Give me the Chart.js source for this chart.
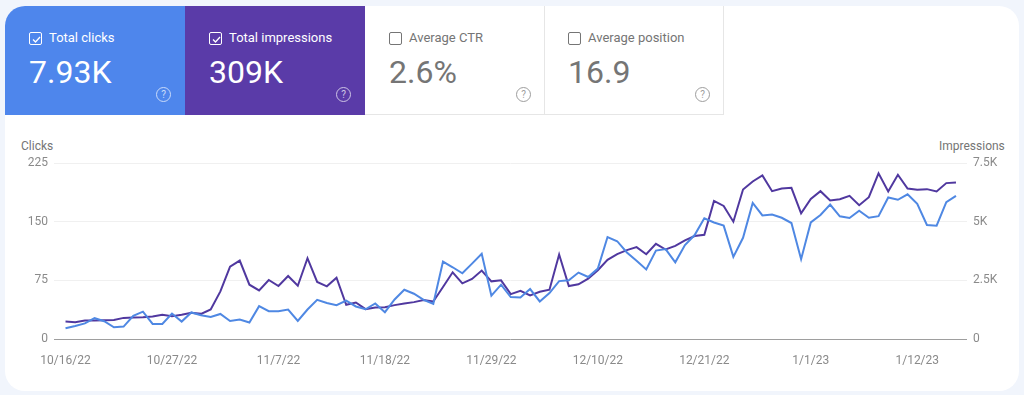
<!DOCTYPE html>
<html>
<head>
<meta charset="utf-8">
<script src="https://cdn.jsdelivr.net/npm/chart.js@4/dist/chart.umd.min.js"></script>
<style>
  html, body { margin: 0; padding: 0; }
  body { width: 1024px; height: 395px; background: #f1f5fc; overflow: hidden; position: relative; font-family: Roboto, sans-serif; }
  #panel { position: absolute; left: 5px; top: 6px; width: 1014px; height: 385px; background: #fff; border-radius: 20px; overflow: hidden; }
  .card { position: absolute; top: 0; width: 180px; height: 109px; box-sizing: border-box; color: #757575; border-right: 1px solid #e6e6e6; border-bottom: 1px solid #e6e6e6; }
  .card.on { color: #fff; border: 0; }
  .card .box { position: absolute; left: 24px; top: 26px; width: 11px; height: 11px; border: 1.5px solid currentColor; border-radius: 2px; }
  .card .name { position: absolute; left: 44px; top: 24px; font-size: 13px; line-height: 16px; white-space: nowrap; }
  .card .value { position: absolute; left: 24px; top: 47px; font-size: 32px; line-height: 38px; white-space: nowrap; }
  .card .help { position: absolute; left: 151px; top: 81px; width: 13px; height: 13px; border: 1px solid currentColor; border-radius: 50%; font-size: 10px; line-height: 13px; text-align: center; opacity: 0.7; }
  .card svg { position: absolute; left: 26px; top: 28px; }
  .axis-title { position: absolute; top: 139px; font-size: 12px; line-height: 14px; color: #757575; }
  #chart-wrap { position: absolute; left: 0; top: 130px; width: 1024px; height: 240px; }
</style>
</head>
<body>
<div id="panel">
  <div class="card on" style="left:0;background:#4e86ec">
    <div class="box"></div><svg width="11" height="11" viewBox="0 0 11 11"><path d="M2 5.5 L4.5 8 L9 3" fill="none" stroke="#fff" stroke-width="1.3"/></svg>
    <div class="name">Total clicks</div><div class="value">7.93K</div><div class="help">?</div>
  </div>
  <div class="card on" style="left:180px;background:#5a3ba8">
    <div class="box"></div><svg width="11" height="11" viewBox="0 0 11 11"><path d="M2 5.5 L4.5 8 L9 3" fill="none" stroke="#fff" stroke-width="1.3"/></svg>
    <div class="name">Total impressions</div><div class="value">309K</div><div class="help">?</div>
  </div>
  <div class="card" style="left:360px">
    <div class="box"></div><div class="name">Average CTR</div><div class="value">2.6%</div><div class="help">?</div>
  </div>
  <div class="card" style="left:539px">
    <div class="box"></div><div class="name">Average position</div><div class="value">16.9</div><div class="help">?</div>
  </div>
</div>
<div class="axis-title" style="left:21px">Clicks</div>
<div class="axis-title" style="left:939px">Impressions</div>
<div id="chart-wrap"><canvas id="chart" width="1024" height="240"></canvas></div>
<script>
// one value per day, 10/16/22 to 1/16/23
const clicks = [
  13.7, 16.7, 20, 26.6, 22.7, 15, 15.9, 29.6, 35, 19.3,
  19.3, 32.6, 22.3, 33.9, 30.4, 28.3, 32, 23, 25, 21,
  42, 35.6, 35.6, 37.7, 23, 37.7, 50, 46, 43.3, 49,
  41.6, 38, 45.4, 34.3, 50.6, 63, 57.9, 50, 45, 99,
  91.7, 84, 96.4, 108.9, 55.3, 69.4, 53.6, 53, 63.9, 48,
  58.7, 74, 75, 84.9, 79.3, 90, 130.3, 125, 110.6, 99.9,
  89, 113, 114.9, 98, 120, 132.9, 154.3, 149, 144.9, 105,
  129.4, 174, 158, 159, 155, 148.3, 102, 149, 158.6, 171.9,
  156.9, 154.7, 164, 155, 157, 180.9, 178, 185, 172.7, 145.7,
  144.9, 174.9, 183
];
const impressions = [
  743, 714, 786, 786, 800, 814, 900, 914, 930, 957,
  1029, 971, 1029, 1114, 1071, 1257, 2030, 3086, 3343, 2314,
  2071, 2514, 2257, 2686, 2271, 3443, 2429, 2243, 2614, 1457,
  1557, 1271, 1343, 1357, 1443, 1514, 1571, 1657, 1600, 2214,
  2843, 2371, 2557, 2914, 2457, 2500, 1914, 2057, 1857, 2014,
  2100, 3600, 2257, 2329, 2571, 2929, 3371, 3614, 3786, 3914,
  3614, 4057, 3814, 3971, 4200, 4386, 4443, 5886, 5671, 5000,
  6371, 6714, 6971, 6300, 6414, 6443, 5357, 5971, 6300, 5900,
  5957, 6100, 5700, 6043, 7057, 6286, 7000, 6414, 6357, 6386,
  6286, 6643, 6671
];
const dateLabels = ['10/16/22', '10/27/22', '11/7/22', '11/18/22', '11/29/22', '12/10/22', '12/21/22', '1/1/23', '1/12/23'];
const labelStep = 11;
const impressionLabels = { 0: '0', 2500: '2.5K', 5000: '5K', 7500: '7.5K' };

const tickFont = { family: 'Roboto', size: 12 };
const tickColor = '#8a8a8a';
const gridColor = (ctx) => (ctx.tick && ctx.tick.value === 0 ? '#9e9e9e' : '#f0f0f0');

new Chart(document.getElementById('chart'), {
  type: 'line',
  data: {
    datasets: [
      { label: 'Clicks', yAxisID: 'y', data: clicks.map((v, i) => ({ x: i, y: v })), borderColor: '#4f88e3', borderWidth: 2 },
      { label: 'Impressions', yAxisID: 'y2', data: impressions.map((v, i) => ({ x: i, y: v })), borderColor: '#50389f', borderWidth: 2 },
    ],
  },
  options: {
    responsive: false,
    animation: false,
    events: [],
    elements: { point: { radius: 0 }, line: { tension: 0, borderJoinStyle: 'miter' } },
    layout: { padding: { top: 33, bottom: 5, left: 0, right: 0 } },
    plugins: { legend: { display: false }, tooltip: { enabled: false } },
    scales: {
      x: {
        type: 'linear',
        min: -1.19,
        max: 93.14,
        afterBuildTicks: (axis) => { axis.ticks = dateLabels.map((_, i) => ({ value: i * labelStep })); },
        afterFit: (axis) => { axis.height = 26; },
        grid: { display: false },
        border: { display: false },
        ticks: {
          autoSkip: false, maxRotation: 0, padding: 7,
          font: tickFont, color: tickColor,
          callback: (v) => dateLabels[v / labelStep],
        },
      },
      y: {
        position: 'left',
        min: 0,
        max: 225,
        afterFit: (axis) => { axis.width = 54; },
        grid: { color: gridColor, drawTicks: false },
        border: { display: false },
        ticks: { stepSize: 75, padding: 6, font: tickFont, color: tickColor },
      },
      y2: {
        position: 'right',
        min: 0,
        max: 7500,
        afterFit: (axis) => { axis.width = 57; },
        grid: { drawOnChartArea: false, drawTicks: false },
        border: { display: false },
        ticks: { stepSize: 2500, padding: 6, font: tickFont, color: tickColor, callback: (v) => impressionLabels[v] },
      },
    },
  },
});
</script>
</body>
</html>
